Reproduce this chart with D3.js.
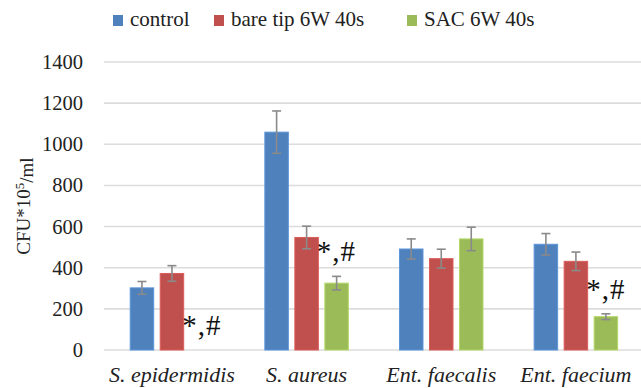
<!DOCTYPE html>
<html>
<head>
<meta charset="utf-8">
<script src="https://cdn.jsdelivr.net/npm/d3@7.9.0/dist/d3.min.js"></script>
<style>
  body { margin: 0; background: #fff; }
  #wrap { position: relative; width: 641px; height: 388px; }
  #wrap svg { position: absolute; left: 0; top: 0; }
  .lbl { position: absolute; white-space: nowrap; line-height: 1; font-family: "Liberation Serif", "Times New Roman", serif; color: #222; }
</style>
</head>
<body>
<div id="wrap"><svg id="chart" width="641" height="388"></svg></div>
<script>
// data
const categories = ["S. epidermidis", "S. aureus", "Ent. faecalis", "Ent. faecium"];
const seriesNames = ["control", "bare tip 6W 40s", "SAC 6W 40s"];
const seriesColors = ["#4f81bd", "#c0504d", "#9bbb59"];
const controlVals = [302, 1059, 491, 514];
const controlErr  = [31, 103, 49, 52];
const bareVals    = [372, 547, 444, 431];
const bareErr     = [38, 55, 46, 45];
const sacVals     = [0, 325, 540, 162];
const sacErr      = [0, 33, 57, 14];
const sacMarks    = ["*,#", "*,#", "", "*,#"];
const yTicks = [0, 200, 400, 600, 800, 1000, 1200, 1400];

const values = [controlVals, bareVals, sacVals];
const errors = [controlErr, bareErr, sacErr];

const FONT = "Liberation Serif";
const svg = d3.select("#chart");
const wrap = d3.select("#wrap");

// html labels keep the serif face; baseline sits at 0.8375em with line-height 1
function label(x, base, txt, size, anchor, italic) {
  const shift = anchor === "end" ? "-100%" : anchor === "middle" ? "-50%" : "0";
  return wrap.append("div")
    .attr("class", "lbl")
    .style("left", x + "px")
    .style("top", (base - 0.8375 * size) + "px")
    .style("font-size", size + "px")
    .style("font-style", italic ? "italic" : "normal")
    .style("transform", `translateX(${shift})`)
    .text(txt);
}

const x0 = d3.scaleBand().domain(categories).range([104.7, 643.3]).padding(0);
const x1 = d3.scaleBand().domain(seriesNames).range([25.5, 109]).paddingInner(0.217).paddingOuter(0);
const y = d3.scaleLinear().domain([0, 1400]).range([350, 62]);

// gridlines
svg.append("g").selectAll("line")
  .data(yTicks)
  .enter().append("line")
  .attr("x1", 104).attr("x2", 641)
  .attr("y1", d => y(d)).attr("y2", d => y(d))
  .attr("stroke", "#dcdcdc")
  .attr("stroke-width", 1.6);

// y tick labels
yTicks.forEach(t => label(83, y(t) + 7.2, t, 20.5, "end", false));

// y axis title
const yt = svg.append("text")
  .attr("transform", "translate(30,206) rotate(-90)")
  .attr("text-anchor", "middle")
  .attr("font-family", FONT)
  .attr("fill", "#222")
  .style("font-size", "19px");
yt.append("tspan").text("CFU*10");
yt.append("tspan").attr("dy", "-0.45em").style("font-size", "13px").text("5");
yt.append("tspan").attr("dy", "0.45em").text("/ml");

// bars
const flat = [];
categories.forEach((c, i) => {
  seriesNames.forEach((s, j) => {
    flat.push({ cat: c, series: s, j: j, v: values[j][i], e: errors[j][i] });
  });
});

const groups = svg.append("g");
groups.selectAll("rect")
  .data(flat.filter(d => d.v > 0))
  .enter().append("rect")
  .attr("x", d => x0(d.cat) + x1(d.series))
  .attr("y", d => y(d.v))
  .attr("width", x1.bandwidth())
  .attr("height", d => y(0) - y(d.v))
  .attr("fill", d => seriesColors[d.j])
  .attr("stroke", d => d3.color(seriesColors[d.j]).brighter(0.4))
  .attr("stroke-width", 1);

// error bars
const eb = groups.selectAll(".err")
  .data(flat.filter(d => d.e > 0))
  .enter().append("g")
  .attr("class", "err")
  .attr("transform", d => `translate(${x0(d.cat) + x1(d.series) + x1.bandwidth() / 2},0)`)
  .attr("stroke", "#8a8a8a")
  .attr("stroke-width", 1.6);
eb.append("line").attr("x1", 0).attr("x2", 0)
  .attr("y1", d => y(d.v + d.e)).attr("y2", d => y(d.v - d.e));
eb.append("line").attr("x1", -4.5).attr("x2", 4.5)
  .attr("y1", d => y(d.v + d.e)).attr("y2", d => y(d.v + d.e));
eb.append("line").attr("x1", -4.5).attr("x2", 4.5)
  .attr("y1", d => y(d.v - d.e)).attr("y2", d => y(d.v - d.e));

// significance marks above SAC bars
categories.forEach((c, i) => {
  if (!sacMarks[i]) return;
  label(x0(c) + x1(seriesNames[2]) - 8, y(sacVals[i] + sacErr[i]) - 15, sacMarks[i], 29, "start", false)
    .style("letter-spacing", "1px")
    .style("color", "#111");
});

// x category labels
categories.forEach(c => {
  label(x0(c) + x1.range()[0] + (x1.range()[1] - x1.range()[0]) / 2, 382, c, 22, "middle", true);
});

// legend
const legendX = [113, 214, 407];
svg.append("g").selectAll("rect")
  .data(seriesNames)
  .enter().append("rect")
  .attr("x", (d, i) => legendX[i]).attr("y", 15)
  .attr("width", 10).attr("height", 11)
  .attr("fill", (d, i) => seriesColors[i]);
seriesNames.forEach((s, i) => label(legendX[i] + 17, 27, s, 21, "start", false));
</script>
</body>
</html>
